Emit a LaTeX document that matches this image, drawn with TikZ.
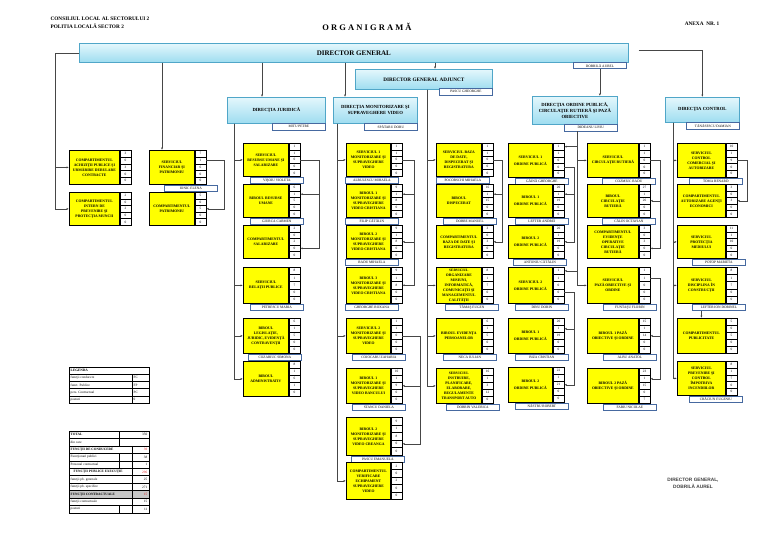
\documentclass[tikz,border=0pt]{standalone}
\usepackage{fontspec}
\setmainfont{Liberation Serif}
\newfontfamily\signfont{Liberation Sans}
\usetikzlibrary{arrows.meta, calc}
\definecolor{boxyel}{RGB}{255,255,0}
\definecolor{dirtop}{RGB}{228,247,252}
\definecolor{dirbot}{RGB}{158,221,240}
\definecolor{dirline}{RGB}{80,166,200}
\definecolor{lblline}{RGB}{70,105,160}
\definecolor{wire}{RGB}{70,70,70}
\definecolor{numred}{RGB}{225,30,30}

% unit box: name, x, y, width, height, text, numbers, label, label shift
\newcommand\orgunit[9]{%
  \node[ubox, minimum width=#4, minimum height=#5, anchor=north west] (#1) at (#2,#3) {#6};
  \pgfmathsetmacro\cellh{#5/5}
  \foreach \nv [count=\i] in {#7}
    \node[ncell, minimum height=\cellh, anchor=north west] (#1-\i)
      at ($(#1.north east)+(0,{(\i-1)*\cellh})$) {\nv};
  \if\relax\detokenize{#8}\relax\else
    \node[lbl, anchor=north west] (#1l) at ($(#1.south west)+(#9,0)$) {#8};
  \fi
}

\begin{document}
\begin{tikzpicture}[
    x=1pt, y=-1pt,
    ubox/.style   = {rectangle, draw=black, line width=0.8pt, fill=boxyel, align=center,
                     inner sep=0.5pt, font=\fontsize{3.75}{5}\selectfont\bfseries},
    ncell/.style  = {rectangle, draw=black, line width=0.5pt, fill=white, minimum width=11,
                     inner sep=0pt, font=\fontsize{3.4}{3.8}\selectfont},
    lbl/.style    = {rectangle, draw=lblline, line width=0.7pt, fill=white, minimum width=53,
                     minimum height=6.5, inner sep=0.4pt, font=\fontsize{3.5}{3.9}\selectfont},
    dirbox/.style = {rectangle, draw=dirline, line width=0.7pt, top color=dirtop, bottom color=dirbot,
                     align=center, inner sep=1pt, font=\fontsize{4.7}{5.9}\selectfont\bfseries},
    arr/.style    = {draw=wire, line width=0.5pt, -{Latex[length=2.4pt,width=2pt]}},
    tabline/.style= {draw=black, line width=0.5pt},
    tabtxt/.style = {inner sep=0.5pt, font=\fontsize{3.4}{3.8}\selectfont},
  ]
  \useasboundingbox (0,0) rectangle (768,543);

  % --- header ---
  \node[anchor=west, align=left, font=\fontsize{5.3}{8.5}\selectfont\bfseries] (hdr) at (47,23)
    {CONSILIUL LOCAL AL SECTORULUI 2\\POLITIA LOCALĂ SECTOR 2};
  \node[font=\fontsize{8.5}{10}\selectfont\bfseries] (title) at (367,27) {O R G A N I G R A M Ă};
  \node[font=\fontsize{5.3}{6}\selectfont\bfseries] (anexa) at (702,24) {ANEXA\ \ NR. 1};

  % --- conducere ---
  \node[dirbox, minimum width=549, minimum height=19, anchor=north west,
        font=\fontsize{7}{8}\selectfont\bfseries] (dg) at (79,43) {DIRECTOR GENERAL};
  \node[lbl, anchor=north west] (dgl) at (573,62) {DOBRILĂ AUREL};
  \node[dirbox, minimum width=137, minimum height=20, anchor=north west,
        font=\fontsize{5.2}{6}\selectfont\bfseries] (dga) at (355,69) {DIRECTOR GENERAL ADJUNCT};
  \node[lbl, anchor=north west] (dgal) at (439,88) {PASCU GHEORGHE};

  % --- directii ---
  \node[dirbox, minimum width=98, minimum height=26, anchor=north west] (dj) at (227,97) {DIRECŢIA JURIDICĂ};
  \node[lbl, anchor=north west] (djl) at (272,123) {MITU PETRE};
  \node[dirbox, minimum width=84, minimum height=26, anchor=north west] (dm) at (333,97)
    {DIRECŢIA MONITORIZARE ŞI\\SUPRAVEGHERE VIDEO};
  \node[lbl, anchor=north west] (dml) at (364,123) {SPĂTARU DORU};
  \node[dirbox, minimum width=85, minimum height=28, anchor=north west] (dop) at (532,96)
    {DIRECŢIA ORDINE PUBLICĂ,\\CIRCULAŢIE RUTIERĂ ŞI PAZĂ\\OBIECTIVE};
  \node[lbl, anchor=north west] (dopl) at (564,124) {DIDEANU LIVIU};
  \node[dirbox, minimum width=74, minimum height=25, anchor=north west] (dc) at (665,97) {DIRECŢIA CONTROL};
  \node[lbl, anchor=north west] (dcl) at (686,122) {TĂNĂSESCU DAMIAN};

  % --- subordonate directorului general ---
  \orgunit{achiz}{69}{150}{50}{34}{COMPARTIMENTUL\\ACHIZIŢII PUBLICE ŞI\\URMĂRIRE DERULARE\\CONTRACTE}{3,0,3,0,0}{}{0}
  \orgunit{prev}{69}{192}{50}{33}{COMPARTIMENTUL\\INTERN DE\\PREVENIRE ŞI\\PROTECŢIA MUNCII}{2,0,2,0,0}{}{0}
  \orgunit{fin}{149}{150}{45}{34}{SERVICIUL\\FINANCIAR ŞI\\PATRIMONIU}{7,1,6,0,0}{IONIC ELENA}{15}
  \orgunit{patr}{149}{192}{45}{33}{COMPARTIMENTUL\\PATRIMONIU}{5,0,5,0,0}{}{0}

  % --- juridica ---
  \orgunit{srus}{243}{143}{45}{33}{SERVICIUL\\RESURSE UMANE ŞI\\SALARIZARE}{1,1,0,0,0}{VIŞOIU VIOLETA}{7}
  \orgunit{brus}{243}{184}{45}{33}{BIROUL RESURSE\\UMANE}{6,1,5,0,0}{GIURCA CARMEN}{7}
  \orgunit{csal}{243}{225}{45}{33}{COMPARTIMENTUL\\SALARIZARE}{2,0,2,0,0}{}{0}
  \orgunit{srp}{243}{267}{45}{36}{SERVICIUL\\RELAŢII PUBLICE}{8,1,7,0,0}{PETRESCU MARIA}{7}
  \orgunit{bleg}{243}{318}{45}{35}{BIROUL\\LEGISLAŢIE,\\JURIDIC, EVIDENŢĂ\\CONTRAVENŢII}{6,1,5,0,0}{COZARIUC SIMONA}{5}
  \orgunit{badm}{243}{361}{45}{35}{BIROUL\\ADMINISTRATIV}{8,1,6,1,0}{}{0}

  % --- monitorizare ---
  \orgunit{sm1}{346}{143}{44}{33}{SERVICIUL 1\\MONITORIZARE ŞI\\SUPRAVEGHERE\\VIDEO}{1,1,0,0,0}{ALBULESCU MIHAELA}{-1}
  \orgunit{bm1}{346}{184}{44}{33}{BIROUL 1\\MONITORIZARE ŞI\\SUPRAVEGHERE\\VIDEO CRISTIANA}{9,1,8,0,0}{FILIP CĂTĂLIN}{-1}
  \orgunit{bm2}{346}{225}{44}{33}{BIROUL 2\\MONITORIZARE ŞI\\SUPRAVEGHERE\\VIDEO CRISTIANA}{9,1,8,0,0}{RADU MIHAELA}{-1}
  \orgunit{bm3}{346}{267}{44}{36}{BIROUL 3\\MONITORIZARE ŞI\\SUPRAVEGHERE\\VIDEO CRISTIANA}{9,1,8,0,0}{GHEORGHE ROXANA}{-1}
  \orgunit{sm2}{346}{318}{44}{35}{SERVICIUL 2\\MONITORIZARE ŞI\\SUPRAVEGHERE\\VIDEO}{1,1,0,0,0}{COJOCARU ZAHARIA}{6}
  \orgunit{bm4}{346}{368}{44}{35}{BIROUL 1\\MONITORIZARE ŞI\\SUPRAVEGHERE\\VIDEO BANCULUI}{10,1,9,0,0}{STANCU DANIELA}{6}
  \orgunit{bm5}{346}{417}{44}{38}{BIROUL 2\\MONITORIZARE ŞI\\SUPRAVEGHERE\\VIDEO CREANGA}{9,1,8,0,0}{PASCU EMANUELA}{5}
  \orgunit{cver}{346}{462}{44}{37}{COMPARTIMENTUL\\VERIFICARE\\ECHIPAMENT\\SUPRAVEGHERE\\VIDEO}{2,0,2,0,0}{}{0}

  % --- director general adjunct ---
  \orgunit{sbd}{436}{143}{45}{33}{SERVICIUL BAZA\\DE DATE,\\DISPECERAT ŞI\\REGISTRATURA}{1,1,0,0,0}{POCORSCHI MIHAELA}{0}
  \orgunit{bdisp}{436}{184}{45}{33}{BIROUL\\DISPECERAT}{16,1,15,0,0}{DOBRE MANUEL}{7}
  \orgunit{cbd}{436}{225}{45}{33}{COMPARTIMENTUL\\BAZA DE DATE ŞI\\REGISTRATURA}{3,0,3,0,0}{}{0}
  \orgunit{som}{436}{267}{45}{36}{\fontsize{3.5}{4.7}\selectfont SERVICIUL\\ORGANIZARE\\MISIUNI,\\INFORMATICĂ,\\COMUNICAŢII ŞI\\MANAGEMENTUL\\CALITĂŢII}{8,1,7,0,0}{TĂMAŞ EUGEN}{9}
  \orgunit{bep}{436}{318}{45}{35}{BIROUL EVIDENŢA\\PERSOANELOR}{6,1,5,0,0}{NECA IULIAN}{7}
  \orgunit{sinst}{436}{368}{45}{35}{\fontsize{3.6}{5}\selectfont SERVICIUL\\INSTRUIRE,\\PLANIFICARE,\\ELABORARE,\\REGULAMENTE\\TRANSPORT AUTO}{16,1,3,12,0}{DOBRIN VALERICA}{10}

  % --- ordine publica ---
  \orgunit{sop1}{508}{143}{44}{34}{SERVICIUL 1\\[2pt]ORDINE PUBLICĂ}{1,1,0,0,0}{GĂINĂ GHEORGHE}{7}
  \orgunit{bop1}{508}{184}{44}{33}{BIROUL 1\\[2pt]ORDINE PUBLICĂ}{20,1,19,0,0}{LEFTER ANDREI}{7}
  \orgunit{bop2}{508}{225}{44}{33}{BIROUL 2\\[2pt]ORDINE PUBLICĂ}{20,1,19,0,0}{ANTONIU CĂTĂLIN}{5}
  \orgunit{sop2}{508}{267}{44}{36}{SERVICIUL 2\\[2pt]ORDINE PUBLICĂ}{1,1,0,0,0}{DINU DORIN}{7}
  \orgunit{bop3}{508}{318}{44}{35}{BIROUL 1\\[2pt]ORDINE PUBLICĂ}{20,1,19,0,0}{BIZA CRISTIAN}{7}
  \orgunit{bop4}{508}{367}{44}{35}{BIROUL 2\\[2pt]ORDINE PUBLICĂ}{22,1,21,0,0}{NĂSTRU ROBERT}{7}

  \orgunit{scr}{587}{143}{51}{34}{SERVICIUL\\CIRCULAŢIE RUTIERĂ}{1,1,0,0,0}{COZMIUC RADU}{15}
  \orgunit{bcr}{587}{184}{51}{33}{BIROUL\\CIRCULAŢIE\\RUTIERĂ}{27,1,26,0,0}{CĂLIN OCTAVIAN}{15}
  \orgunit{ceo}{587}{225}{51}{33}{COMPARTIMENTUL\\EVIDENŢE\\OPERATIVE\\CIRCULAŢIE\\RUTIERĂ}{3,0,3,0,0}{}{0}
  \orgunit{spo}{587}{267}{51}{36}{SERVICIUL\\PAZĂ OBIECTIVE ŞI\\ORDINE}{1,1,0,0,0}{FUNTAŞU FLORIN}{16}
  \orgunit{bpo1}{587}{318}{51}{35}{BIROUL 1 PAZĂ\\OBIECTIVE ŞI ORDINE}{15,1,14,0,0}{ALBU ANATOL}{16}
  \orgunit{bpo2}{587}{368}{51}{35}{BIROUL 2 PAZĂ\\OBIECTIVE ŞI ORDINE}{23,1,15,0,7}{FABIU NICOLAE}{16}

  % --- control ---
  \orgunit{scc}{677}{143}{48}{34}{SERVICIUL\\CONTROL\\COMERCIAL ŞI\\AUTORIZARE}{10,1,9,0,0}{TOMA RENARD}{12}
  \orgunit{caa}{677}{184}{48}{33}{COMPARTIMENTUL\\AUTORIZARE AGENŢI\\ECONOMICI}{3,0,3,0,0}{}{0}
  \orgunit{spm}{677}{225}{48}{33}{SERVICIUL\\PROTECŢIA\\MEDIULUI}{11,1,10,0,0}{POTOP MARIETA}{15}
  \orgunit{sdc}{677}{267}{48}{36}{SERVICIUL\\DISCIPLINA ÎN\\CONSTRUCŢII}{8,1,7,0,0}{LEFTER ION DORINEL}{15}
  \orgunit{cpub}{677}{318}{48}{35}{COMPARTIMENTUL\\PUBLICITATE}{5,0,5,0,0}{}{0}
  \orgunit{spc}{677}{361}{48}{34}{SERVICIUL\\PREVENIRE ŞI\\CONTROL\\ÎMPOTRIVA\\INCENDIILOR}{8,1,7,0,0}{CRĂCIUN EUGENIU}{12}

  % --- connectors ---
  \draw[arr] (dg.west) -- ++(-24,0) |- (achiz.west);
  \draw[arr] (dg.west) -- ++(-24,0) |- (prev.west);
  \coordinate (finin) at ($(fin.north west)+(13,0)$);
  \draw[arr] (dg.south -| finin) -- (finin);
  \draw[arr] (fin-2.east) -- ++(18,0) |- (patr-3.east);

  \coordinate (djin) at ($(dj.north west)+(35,0)$);
  \draw[arr] (dg.south -| djin) -- (djin);
  \coordinate (djt) at ($(dj.south west)+(7,0)$);
  \foreach \n in {srus,srp,bleg,badm} \draw[arr] (djt) |- (\n.west);
  \draw[arr] (srus-3.east) -- ++(19,0) |- (brus-2.east);
  \draw[arr] (srus-3.east) -- ++(19,0) |- (csal-4.east);

  \coordinate (dmin) at ($(dm.north west)+(12,0)$);
  \draw[arr] (dg.south -| dmin) -- (dmin);
  \coordinate (dmt) at ($(dm.south west)+(4,0)$);
  \foreach \n in {sm1,sm2,cver} \draw[arr] (dmt) |- (\n.west);
  \draw[arr] (sm1-3.east) -- ++(12,0) |- (bm1-2.east);
  \draw[arr] (sm1-3.east) -- ++(12,0) |- (bm2-3.east);
  \draw[arr] (sm1-3.east) -- ++(12,0) |- (bm3-3.east);
  \draw[arr] (sm2-3.east) -- ++(18,0) |- (bm4-3.east);
  \draw[arr] (sm2-3.east) -- ++(18,0) |- (bm5-4.east);

  \coordinate (dgain) at ($(dga.north west)+(80,0)$);
  \draw[arr] (dg.south -| dgain) -- (dgain);
  \coordinate (dgat) at ($(dga.south west)+(72,0)$);
  \foreach \n in {sbd,som,bep,sinst} \draw[arr] (dgat) |- (\n.west);
  \draw[arr] (sbd-3.east) -- ++(9,0) |- (bdisp-2.east);
  \draw[arr] (sbd-3.east) -- ++(9,0) |- (cbd-3.east);

  \draw[arr] (dgl.south) -- (dgl.south |- dop.north);
  \coordinate (dopt) at ($(dopl.south west)+(13,0)$);
  \foreach \n in {sop1-1.east,sop2-1.east,scr.west,spo.west} \draw[arr] (dopt) |- (\n);
  \draw[arr] (sop1-4.east) -- ++(10,0) |- (bop1-2.east);
  \draw[arr] (sop1-4.east) -- ++(10,0) |- (bop2-3.east);
  \draw[arr] (sop2-4.east) -- ++(10,0) |- (bop3-2.east);
  \draw[arr] (sop2-4.east) -- ++(10,0) |- (bop4-3.east);
  \draw[arr] (scr-3.east) -- ++(10,0) |- (bcr-3.east);
  \draw[arr] (scr-3.east) -- ++(10,0) |- (ceo-4.east);
  \draw[arr] (spo-2.east) -- ++(10,0) |- (bpo1-3.east);
  \draw[arr] (spo-2.east) -- ++(10,0) |- (bpo2-2.east);

  \coordinate (dgr) at ($(dg.east)+(10,-3)$);
  \draw[arr] (dgr) -| (dc.north);
  \coordinate (dct) at ($(dc.south west)+(8,0)$);
  \foreach \n in {scc,spm,sdc,spc} \draw[arr] (dct) |- (\n.west);
  \draw[arr] (scc-3.east) -- ++(10,0) |- (caa-3.east);
  \draw[arr] (sdcl.south -| cpub.north) -- (cpub.north);

  % --- legenda ---
  \draw[tabline] (69,367) rectangle (149,374.2);
  \node[tabtxt, anchor=west, font=\fontsize{3.5}{3.9}\selectfont\bfseries] (lg0) at (70,370.6) {LEGENDA};
  \foreach \t/\c [count=\i] in {funcţii conducere/FC, funct. Publice/FP, pers. Contractual/PC, posturi/0} {
    \draw[tabline] (69,{367+\i*7.2}) rectangle (149,{367+(\i+1)*7.2});
    \draw[tabline] (132,{367+\i*7.2}) -- (132,{367+(\i+1)*7.2});
    \node[tabtxt, anchor=west] (lg\i) at (70,{367+(\i+0.5)*7.2}) {\t};
    \node[tabtxt, anchor=west] (lc\i) at (133,{367+(\i+0.5)*7.2}) {\c};
  }

  % --- total ---
  \fill[black!22] (69,{431+8*7.45}) rectangle (149,{431+9*7.45});
  \foreach \t/\v/\s [count=\i] in {
      {\bfseries TOTAL}/{350}/{119},
      {din care}/{}/{119},
      {\bfseries FUNCŢII DE CONDUCERE}/{\color{numred}39}/{132},
      {Funcţionari publici}/{38}/{119,132},
      {Personal contractual}/{1}/{119,132},
      {\hspace{3pt}\bfseries FUNCŢII PUBLICE EXECUŢIE}/{\color{numred}296}/{132},
      {funcţii pb. generale}/{25}/{132},
      {funcţii pb. specifice}/{271}/{132},
      {\bfseries FUNCŢII CONTRACTUALE}/{\color{numred}15}/{132},
      {funcţii contractuale}/{15}/{132},
      {posturi}/{11}/{119,132}} {
    \draw[tabline] (69,{431+(\i-1)*7.45}) rectangle (149,{431+\i*7.45});
    \foreach \x in \s \draw[tabline] (\x,{431+(\i-1)*7.45}) -- (\x,{431+\i*7.45});
    \node[tabtxt, anchor=west] (tt\i) at (70,{431+(\i-0.5)*7.45}) {\t};
    \node[tabtxt, anchor=east] (tv\i) at (148,{431+(\i-0.5)*7.45}) {\v};
  }

  % --- semnatura ---
  \node[align=center, text=black!75, font={\signfont\bfseries\fontsize{4.8}{7}\selectfont}] (sign)
    at (693,483) {DIRECTOR GENERAL,\\DOBRILĂ AUREL};
\end{tikzpicture}
\end{document}
